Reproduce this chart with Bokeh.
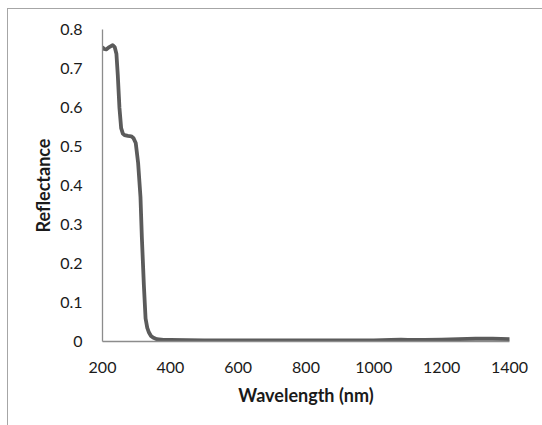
from bokeh.plotting import figure
from bokeh.models import FixedTicker, Range1d
from bokeh.embed import file_html
from bokeh.resources import INLINE

wavelength = [200, 205, 211, 220, 230, 236, 241, 245, 250, 255, 260, 265, 275, 285, 291,
              298, 305, 312, 316, 322, 327, 332, 337, 343, 349, 360, 380, 400, 500, 600,
              700, 800, 900, 1000, 1050, 1080, 1100, 1150, 1200, 1250, 1300, 1350, 1400]
reflectance = [0.754, 0.750, 0.749, 0.755, 0.760, 0.755, 0.738, 0.684, 0.599, 0.547, 0.533,
               0.529, 0.527, 0.526, 0.522, 0.509, 0.458, 0.370, 0.268, 0.144, 0.059, 0.035,
               0.023, 0.014, 0.010, 0.006, 0.004, 0.004, 0.003, 0.003, 0.003, 0.003, 0.003,
               0.003, 0.004, 0.005, 0.004, 0.004, 0.005, 0.006, 0.007, 0.007, 0.006]

x_ticks = [200, 400, 600, 800, 1000, 1200, 1400]
y_ticks = [0, 0.1, 0.2, 0.3, 0.4, 0.5, 0.6, 0.7, 0.8]
y_tick_labels = ["0", "0.1", "0.2", "0.3", "0.4", "0.5", "0.6", "0.7", "0.8"]
x_title = "Wavelength (nm)"
y_title = "Reflectance"

FONT = "Lato"
AXIS_COLOR = "#8c8c8c"

p = figure(width=535, height=417, output_backend="svg", toolbar_location=None,
           x_range=Range1d(200, 1400), y_range=Range1d(0, 0.8),
           min_border_left=94, min_border_right=34, min_border_top=20, min_border_bottom=85)
p.styles = {"margin-top": "8px", "margin-left": "7px",
            "border-top": "1px solid #a6a6a6", "border-left": "1px solid #a6a6a6"}
p.outline_line_color = None
p.grid.visible = False
p.background_fill_color = "white"
p.border_fill_color = "white"

p.line(wavelength, reflectance, line_color="#5b5b5b", line_width=3.8,
       line_join="round", line_cap="round")

for ax in (p.xaxis[0], p.yaxis[0]):
    ax.axis_line_color = AXIS_COLOR
    ax.axis_line_width = 1.3
    ax.major_tick_line_color = None
    ax.minor_tick_line_color = None
    ax.major_tick_out = 0
    ax.major_tick_in = 0
    ax.major_label_text_font = FONT
    ax.major_label_text_font_size = "16px"
    ax.major_label_text_color = "#1a1a1a"
    ax.axis_label_text_font = FONT
    ax.axis_label_text_font_style = "bold"
    ax.axis_label_text_font_size = "18px"
    ax.axis_label_text_color = "#1a1a1a"

p.xaxis.ticker = FixedTicker(ticks=x_ticks)
p.yaxis.ticker = FixedTicker(ticks=y_ticks)
p.yaxis.major_label_overrides = {t: l for t, l in zip(y_ticks, y_tick_labels)}
p.xaxis.major_label_standoff = 20
p.yaxis.major_label_standoff = 20
p.xaxis.axis_label = x_title
p.yaxis.axis_label = y_title
p.xaxis.axis_label_standoff = 8
p.yaxis.axis_label_standoff = 3

open("out.html", "w").write(file_html(p, INLINE))
